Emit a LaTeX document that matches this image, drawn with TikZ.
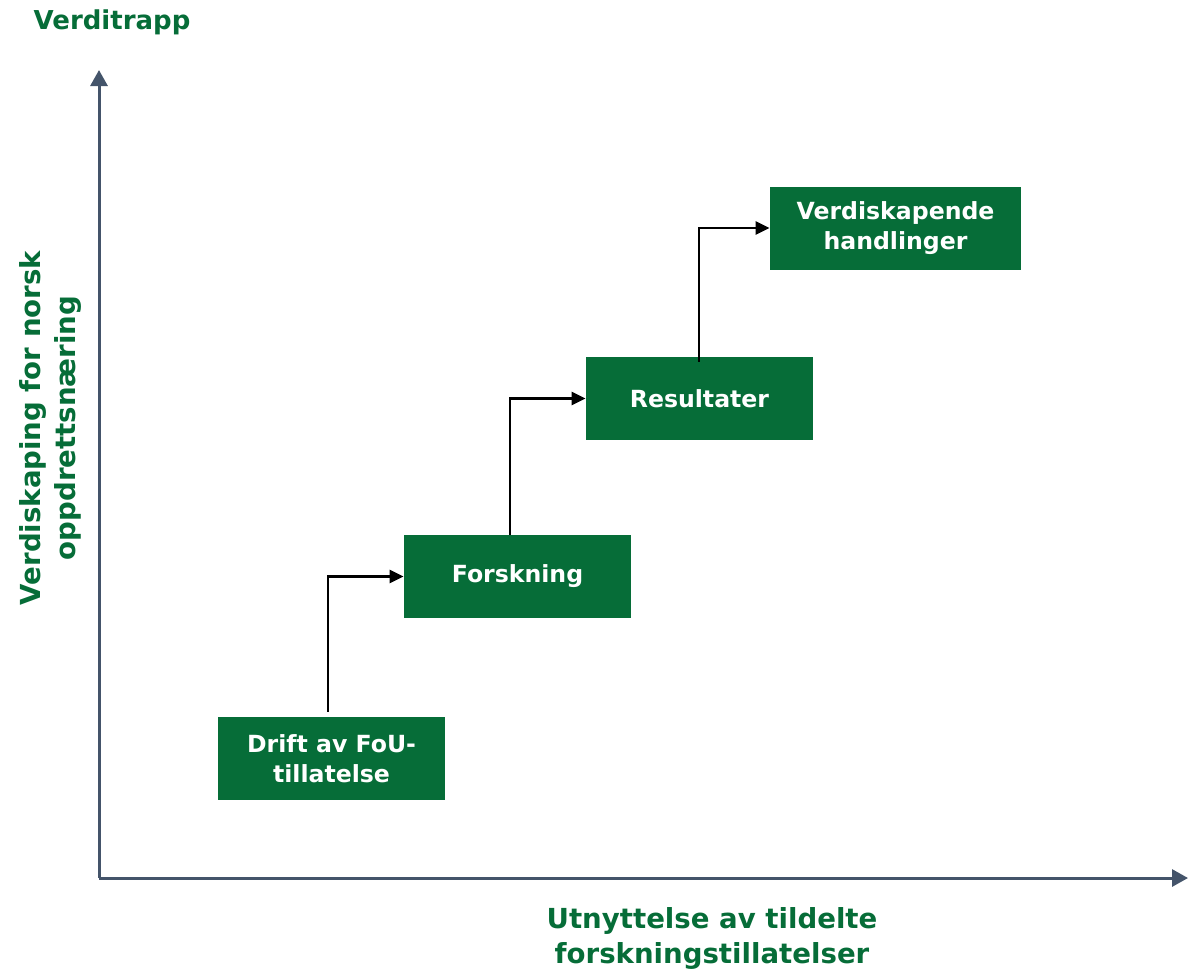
\documentclass[tikz,border=0pt]{standalone}
\usepackage{fontspec}
\setmainfont{DejaVu Sans}
\usetikzlibrary{arrows.meta}
\definecolor{trappgreen}{HTML}{066D38}
\definecolor{axisgray}{HTML}{44546A}

\begin{document}
\begin{tikzpicture}[x=0.5pt, y=-0.5pt,
  step box/.style = {fill=trappgreen, text=white, font=\bfseries\fontsize{11.8}{15}\selectfont, align=center, inner sep=0pt, minimum width=113.5pt, minimum height=41.5pt},
  label/.style = {text=trappgreen, font=\bfseries\fontsize{13.8}{17.5}\selectfont, align=center},
  axis/.style = {axisgray, line width=1.5pt, -{Triangle[length=8pt, width=8.5pt]}},
  conn/.style = {black, line width=1.2pt, -{Triangle[length=7pt, width=6.5pt]}}]
\useasboundingbox (0,0) rectangle (1192,971);
\node[step box] (1) at (331.5,758.5) {Drift av FoU-\\tillatelse};
\node[step box] (2) at (517.5,576.5) {Forskning};
\node[step box] (3) at (699.5,398.5) {Resultater};
\node[step box, minimum width=125.5pt] (4) at (895.5,228) {Verdiskapende\\handlinger};
\coordinate (o) at (99,878);
\coordinate (ytop) at (99,70);
\coordinate (xend) at (1188,878);
\draw[axis] (o) -- (ytop);
\draw[axis] (o) -- (xend);
\node[label, font=\bfseries\fontsize{13}{16}\selectfont] (title) at (112,22) {Verditrapp};
\node[label, rotate=90] (ylab) at (50,428) {Verdiskaping for norsk\\oppdrettsnæring};
\node[label] (xlab) at (712,938) {Utnyttelse av tildelte\\forskningstillatelser};
\draw[conn] ([shift={(-3.5,-5)}]1.north) |- (2.west);
\draw[conn] ([shift={(-7.5,0)}]2.north) |- (3.west);
\draw[conn] ([shift={(-0.5,5)}]3.north) |- (4.west);
\end{tikzpicture}
\end{document}
